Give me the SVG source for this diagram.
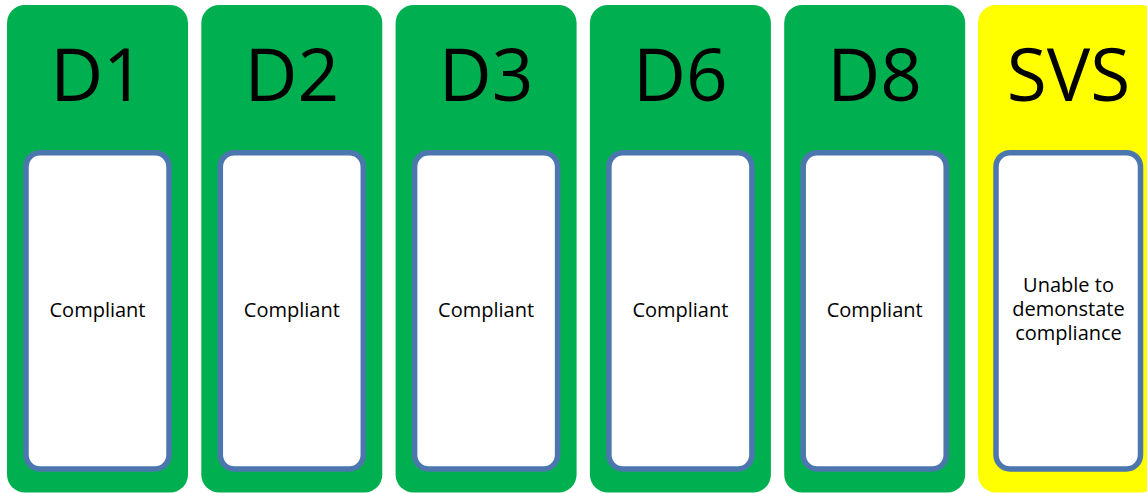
<svg xmlns="http://www.w3.org/2000/svg" width="1147" height="493" viewBox="0 0 1147 493">
<style>
.col{fill:#00B050}
.col.y{fill:#FFFF00}
.box{fill:#FFFFFF;stroke:#4C77AE;stroke-width:5.5}
.big{font-family:"Open Sans","Liberation Sans",sans-serif;font-size:73px;fill:#000;text-anchor:middle}
.lbl{font-family:"Open Sans","Liberation Sans",sans-serif;font-size:20px;fill:#000;text-anchor:middle}
</style>
<rect width="1147" height="493" fill="#FFFFFF"/>
<g id="D1">
<rect class="col" x="7" y="5" width="181" height="487.5" rx="18"/>
<text class="big" x="97.5" y="101">D1</text>
<rect class="box" x="26" y="152.7" width="143" height="316.3" rx="14"/>
<text class="lbl" x="97.5" y="317">Compliant</text>
</g>
<g id="D2">
<rect class="col" x="201.3" y="5" width="181" height="487.5" rx="18"/>
<text class="big" x="291.8" y="101">D2</text>
<rect class="box" x="220.3" y="152.7" width="143" height="316.3" rx="14"/>
<text class="lbl" x="291.8" y="317">Compliant</text>
</g>
<g id="D3">
<rect class="col" x="395.6" y="5" width="181" height="487.5" rx="18"/>
<text class="big" x="486.1" y="101">D3</text>
<rect class="box" x="414.6" y="152.7" width="143" height="316.3" rx="14"/>
<text class="lbl" x="486.1" y="317">Compliant</text>
</g>
<g id="D6">
<rect class="col" x="589.9" y="5" width="181" height="487.5" rx="18"/>
<text class="big" x="680.4" y="101">D6</text>
<rect class="box" x="608.9" y="152.7" width="143" height="316.3" rx="14"/>
<text class="lbl" x="680.4" y="317">Compliant</text>
</g>
<g id="D8">
<rect class="col" x="784.2" y="5" width="181" height="487.5" rx="18"/>
<text class="big" x="874.7" y="101">D8</text>
<rect class="box" x="803.2" y="152.7" width="143" height="316.3" rx="14"/>
<text class="lbl" x="874.7" y="317">Compliant</text>
</g>
<g id="SVS">
<rect class="col y" x="978" y="5" width="181" height="487.5" rx="18"/>
<text class="big" x="1068.5" y="101">SVS</text>
<rect class="box" x="996" y="152.7" width="144.5" height="316.3" rx="14"/>
<text class="lbl" x="1068.5" y="292">Unable to</text>
<text class="lbl" x="1068.5" y="316">demonstate</text>
<text class="lbl" x="1068.5" y="340">compliance</text>
</g>
<g id="connectors"/>
</svg>
